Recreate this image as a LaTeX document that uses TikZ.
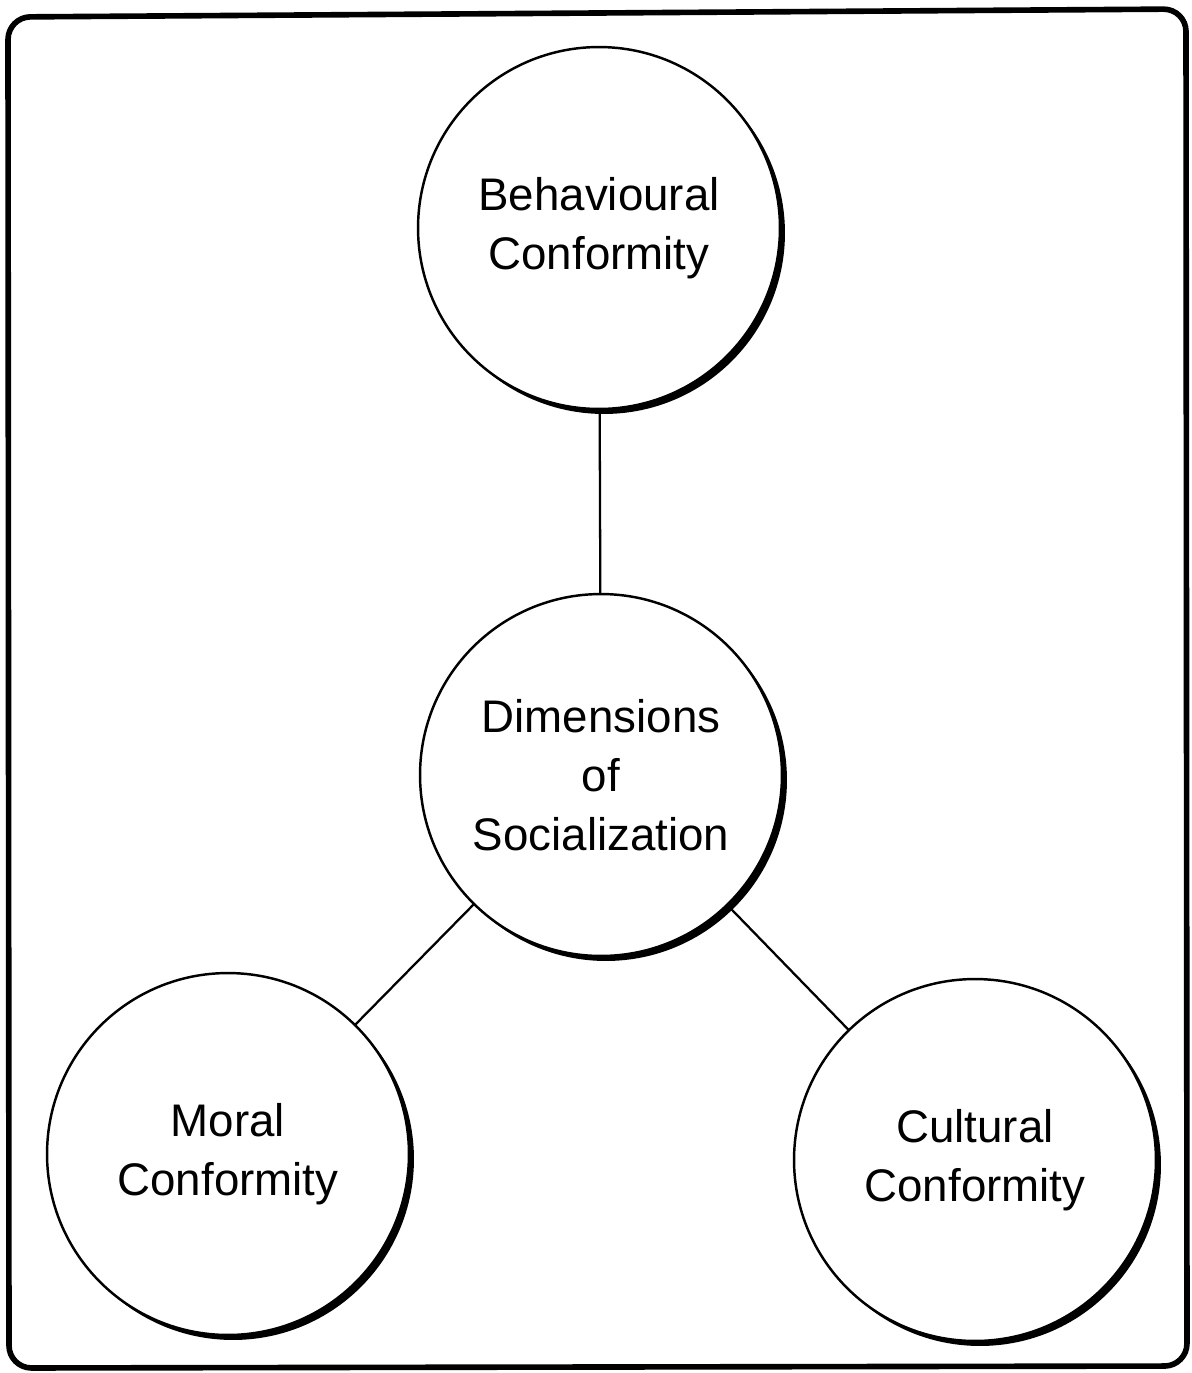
\documentclass[tikz,border=0pt]{standalone}
\usepackage{fontspec}
\setmainfont{Liberation Sans}
\usepackage{tikz}
\usetikzlibrary{shadows}

\begin{document}
\begin{tikzpicture}[line cap=round,line join=round,x=0.02cm,y=-0.02cm,
	conf/.style={circle,draw,line width=1.4pt,fill=white,minimum size=7.24cm,inner sep=0pt,align=center,
	  font=\fontsize{26}{33.6}\selectfont,
	  drop shadow={shadow xshift=0.1cm,shadow yshift=-0.1cm,fill=black,opacity=1}}]
	\useasboundingbox (0,0) rectangle (1192,1373);
	\draw [line width=3.2pt,rounded corners=0.45cm] (8,17) -- (1186,9) -- (1187,1366) -- (9,1368) -- cycle;
	\node[conf] (beh) at (599,228) {Behavioural\\Conformity};
	\node[conf] (dim) at (601,775) {Dimensions\\of\\Socialization};
	\node[conf] (mor) at (228,1154) {Moral\\Conformity};
	\node[conf] (cul) at (975,1160) {Cultural\\Conformity};
	\draw [line width=1.3pt] (beh) -- (dim);
	\draw [line width=1.3pt] (dim) -- (mor);
	\draw [line width=1.3pt] (dim) -- (cul);
\end{tikzpicture}
\end{document}
